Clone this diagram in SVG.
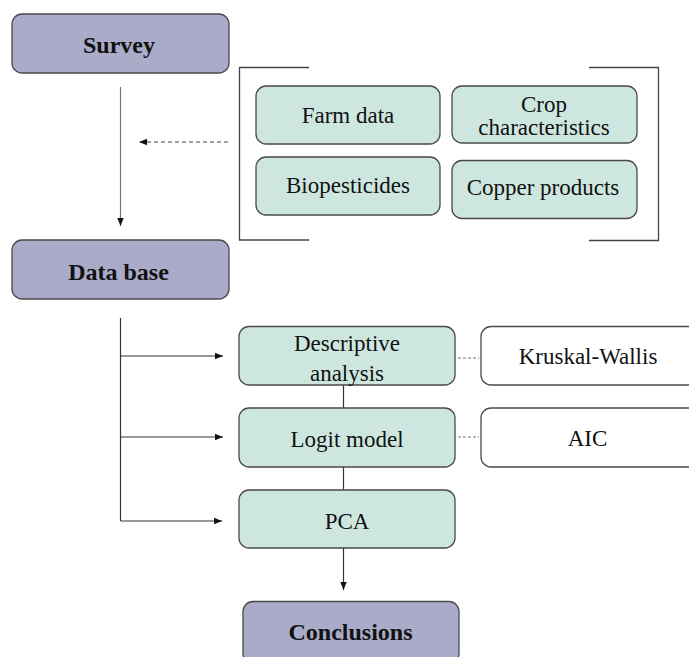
<svg xmlns="http://www.w3.org/2000/svg" width="689" height="657" viewBox="0 0 689 657">
<style>
.purple{fill:#aaaac9;stroke:#4a4a4a;stroke-width:1.3}
.green{fill:#cde7e0;stroke:#4a4a4a;stroke-width:1.3}
.white{fill:#ffffff;stroke:#4a4a4a;stroke-width:1.3}
text{font-family:'Liberation Serif','Times New Roman','DejaVu Serif',serif;fill:#111;text-anchor:middle}
.t{font-size:23px;font-weight:normal}
.b{font-size:24px;font-weight:bold}
.ln{fill:none;stroke:#333;stroke-width:1.2}
.dash{fill:none;stroke:#444;stroke-width:1.2;stroke-dasharray:4 3}
.br{fill:none;stroke:#444;stroke-width:1.3}
</style>
<defs>
<marker id="ah" viewBox="0 0 10 10" refX="10" refY="5" markerWidth="8" markerHeight="8" markerUnits="userSpaceOnUse" orient="auto">
<path d="M0,1 L10,5 L0,9 Z" fill="#111"/>
</marker>
</defs>
<rect width="689" height="657" fill="#ffffff"/>

<g id="connectors">
<line class="ln" x1="120.5" y1="87" x2="120.5" y2="226" marker-end="url(#ah)" style="stroke:#777"/>
<line class="dash" x1="228" y1="142" x2="139" y2="142" marker-end="url(#ah)"/>
<path class="ln" d="M120.5,318 V521"/>
<line class="ln" x1="120.5" y1="356" x2="223" y2="356" marker-end="url(#ah)"/>
<line class="ln" x1="120.5" y1="437" x2="223" y2="437" marker-end="url(#ah)"/>
<line class="ln" x1="120.5" y1="521" x2="222" y2="521" marker-end="url(#ah)"/>
<line class="ln" x1="343.5" y1="385" x2="343.5" y2="408"/>
<line class="ln" x1="343.5" y1="467" x2="343.5" y2="490"/>
<line class="ln" x1="343.5" y1="548" x2="343.5" y2="590" marker-end="url(#ah)"/>
<line class="dash" x1="458" y1="358" x2="479" y2="358" style="stroke-dasharray:3 2;stroke:#777"/>
<line class="dash" x1="458" y1="437" x2="479" y2="437" style="stroke-dasharray:3 2;stroke:#777"/>
</g>

<g id="bracket">
<path class="br" d="M309,67.5 H239.5 V240 H309"/>
<path class="br" d="M589,67.5 H658.5 V240.5 H589"/>
</g>

<g id="survey">
<rect class="purple" x="12" y="14" width="217" height="59" rx="10"/>
<text class="b" x="119" y="53">Survey</text>
</g>

<g id="farm-data">
<rect class="green" x="256" y="86" width="184" height="58" rx="10"/>
<text class="t" x="348" y="123">Farm data</text>
</g>

<g id="crop-characteristics">
<rect class="green" x="452" y="86" width="185" height="57" rx="10"/>
<text class="t" x="544" y="111.5">Crop</text>
<text class="t" x="544" y="135">characteristics</text>
</g>

<g id="biopesticides">
<rect class="green" x="256" y="157" width="184" height="58" rx="10"/>
<text class="t" x="348" y="193">Biopesticides</text>
</g>

<g id="copper-products">
<rect class="green" x="452" y="160.5" width="185" height="58" rx="10"/>
<text class="t" x="543" y="195">Copper products</text>
</g>

<g id="data-base">
<rect class="purple" x="12" y="240" width="217" height="59" rx="10"/>
<text class="b" x="118.5" y="280">Data base</text>
</g>

<g id="descriptive-analysis">
<rect class="green" x="239" y="326.5" width="216" height="58.5" rx="10"/>
<text class="t" x="347" y="350.5" font-size="24">Descriptive</text>
<text class="t" x="347" y="381" font-size="24">analysis</text>
</g>

<g id="kruskal-wallis">
<rect class="white" x="481" y="326.5" width="222" height="58.5" rx="10"/>
<text class="t" x="588" y="364">Kruskal-Wallis</text>
</g>

<g id="logit-model">
<rect class="green" x="239" y="408" width="216" height="59" rx="10"/>
<text class="t" x="347" y="446.5">Logit model</text>
</g>

<g id="aic">
<rect class="white" x="481" y="408" width="222" height="59" rx="10"/>
<text class="t" x="587.5" y="446">AIC</text>
</g>

<g id="pca">
<rect class="green" x="239" y="490" width="216" height="58" rx="10"/>
<text class="t" x="347" y="528.5">PCA</text>
</g>

<g id="conclusions">
<rect class="purple" x="243" y="601.5" width="216" height="62" rx="10"/>
<text class="b" x="350.5" y="639.5">Conclusions</text>
</g>
</svg>
